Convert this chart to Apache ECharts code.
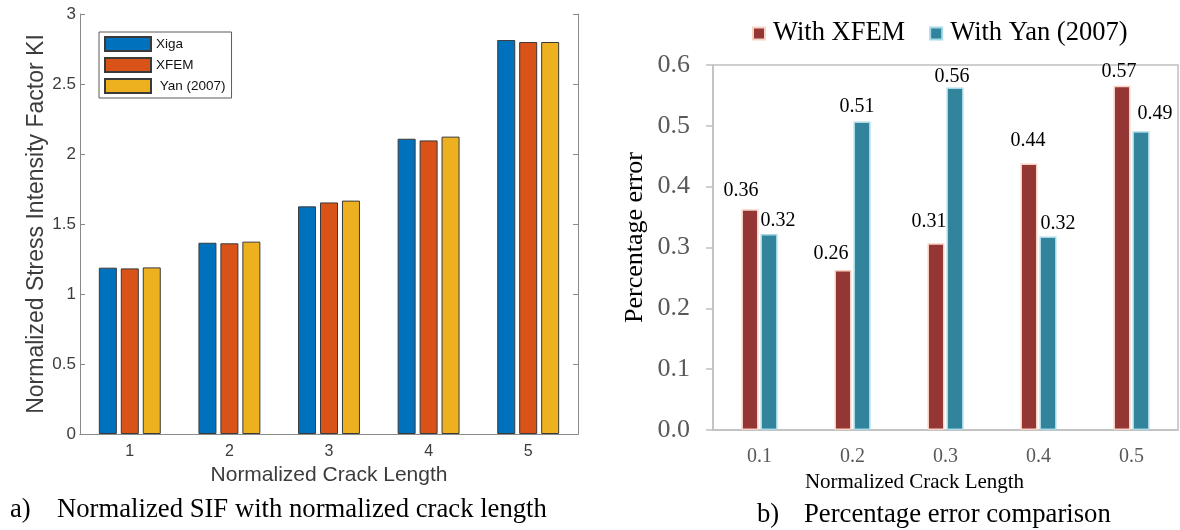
<!DOCTYPE html>
<html>
<head>
<meta charset="utf-8">
<script src="https://cdn.jsdelivr.net/npm/echarts@6/dist/echarts.min.js"></script>
<style>
html,body{margin:0;padding:0;background:#fff;}
#c{width:1180px;height:530px;}
</style>
</head>
<body>
<div id="c"></div>
<script>
// ---- data: left chart (Normalized SIF) ----
const cats1 = ['1', '2', '3', '4', '5'];
const xigaVals = [1.188, 1.366, 1.626, 2.109, 2.814];
const xfemVals = [1.183, 1.362, 1.654, 2.097, 2.800];
const yanVals  = [1.190, 1.374, 1.667, 2.124, 2.800];
const leftNames = ['Xiga', 'XFEM', ' Yan (2007)'];

// ---- data: right chart (Percentage error) ----
const cats2 = ['0.1', '0.2', '0.3', '0.4', '0.5'];
const errXfem = [0.363, 0.263, 0.307, 0.438, 0.566];
const errYan  = [0.322, 0.507, 0.563, 0.318, 0.491];
const rightNames = ['With XFEM', 'With Yan (2007)'];

// label nudges (styling only)
const nudgeXfem = [[-9,-8],[-12,-6],[-7,-11],[-1,-13],[-3,-4]];
const nudgeYan  = [[9,-3],[-5,-5],[-3,-1],[10,-3],[14,-8]];

const SANS = "'Liberation Sans', Arial, sans-serif";
const SERIF = "'Liberation Serif', 'Times New Roman', serif";
const lineL = '#8a8a8a';
const labL = '#3c3c3c';
const lineR = '#c0c0c0';
const labR = '#595959';

function labeled(vals, nudges) {
  return vals.map((v, i) => ({
    value: v,
    label: { offset: nudges[i] }
  }));
}

const capStyle = { fontFamily: SERIF, fontSize: 26.7, fontWeight: 'normal', color: '#000' };

const chart = echarts.init(document.getElementById('c'), null, {renderer: 'canvas'});
const option = {
  animation: false,
  backgroundColor: '#fff',
  title: [
    { text: 'a)', left: 10, top: 496, padding: 0, textStyle: capStyle },
    { text: 'Normalized SIF with normalized crack length', left: 57, top: 496, padding: 0, textStyle: capStyle },
    { text: 'b)', left: 757, top: 501, padding: 0, textStyle: capStyle },
    { text: 'Percentage error comparison', left: 804, top: 501, padding: 0, textStyle: capStyle }
  ],
  legend: [
    {
      data: leftNames, orient: 'vertical', left: 99, top: 32, icon: 'rect',
      itemWidth: 46, itemHeight: 14, itemGap: 5,
      padding: [4, 6, 4, 5],
      borderColor: '#5a5a5a', borderWidth: 1, backgroundColor: '#fff',
      textStyle: { fontFamily: SANS, fontSize: 13.5, color: '#111' },
      selectedMode: false
    },
    {
      data: rightNames, orient: 'horizontal', left: 752, top: 20, icon: 'rect',
      itemWidth: 12, itemHeight: 12, itemGap: 24,
      padding: 0,
      textStyle: { fontFamily: SERIF, fontSize: 26.5, color: '#000', padding: [0, 0, 0, 3] },
      selectedMode: false
    }
  ],
  grid: [
    { left: 80, top: 14, width: 498, height: 420, containLabel: false },
    { left: 713, top: 65, width: 465, height: 365, containLabel: false,
      show: true, borderColor: lineR, borderWidth: 1.5, backgroundColor: 'transparent' }
  ],
  xAxis: [
    {
      type: 'category', gridIndex: 0, data: cats1, position: 'bottom',
      axisLine: { lineStyle: { color: lineL, width: 1 } },
      axisTick: { inside: true, alignWithLabel: true, length: 5, lineStyle: { color: lineL } },
      axisLabel: { fontFamily: SANS, fontSize: 16, color: labL, margin: 10 },
      name: 'Normalized Crack Length', nameLocation: 'middle', nameGap: 30,
      nameTextStyle: { fontFamily: SANS, fontSize: 21, color: labL },
      splitLine: { show: false }, z: 5
    },
    {
      type: 'category', gridIndex: 0, data: cats1, position: 'top',
      axisLine: { lineStyle: { color: lineL, width: 1 } },
      axisTick: { inside: true, alignWithLabel: true, length: 5, lineStyle: { color: lineL } },
      axisLabel: { show: false }, splitLine: { show: false }, z: 5
    },
    {
      type: 'category', gridIndex: 1, data: cats2, position: 'bottom',
      axisLine: { lineStyle: { color: lineR, width: 1.5 } },
      axisTick: { inside: false, length: 7, lineStyle: { color: lineR, width: 1.5 } },
      axisLabel: { fontFamily: SERIF, fontSize: 20, color: labR, margin: 17 },
      name: 'Normalized Crack Length', nameLocation: 'middle', nameGap: 42,
      nameTextStyle: { fontFamily: SERIF, fontSize: 21, color: '#000', padding: [0, 62, 0, 0] },
      splitLine: { show: false }
    }
  ],
  yAxis: [
    {
      type: 'value', gridIndex: 0, min: 0, max: 3, interval: 0.5, position: 'left',
      axisLine: { show: true, lineStyle: { color: lineL, width: 1 } },
      axisTick: { show: true, inside: true, length: 5, lineStyle: { color: lineL } },
      axisLabel: { fontFamily: SANS, fontSize: 17, color: labL, margin: 4 },
      name: 'Normalized Stress Intensity Factor KI', nameLocation: 'middle', nameGap: 31,
      nameTextStyle: { fontFamily: SANS, fontSize: 23, color: labL },
      splitLine: { show: false }, z: 5
    },
    {
      type: 'value', gridIndex: 0, min: 0, max: 3, interval: 0.5, position: 'right',
      axisLine: { show: true, lineStyle: { color: lineL, width: 1 } },
      axisTick: { show: true, inside: true, length: 5, lineStyle: { color: lineL } },
      axisLabel: { show: false }, splitLine: { show: false }, z: 5
    },
    {
      type: 'value', gridIndex: 1, min: 0, max: 0.6, interval: 0.1, position: 'left',
      axisLine: { show: true, lineStyle: { color: lineR, width: 1.5 } },
      axisTick: { show: true, inside: false, length: 7, lineStyle: { color: lineR, width: 1.5 } },
      axisLabel: { fontFamily: SERIF, fontSize: 26, color: labR, margin: 23, formatter: v => v.toFixed(1) },
      name: 'Percentage error', nameLocation: 'middle', nameGap: 65,
      nameTextStyle: { fontFamily: SERIF, fontSize: 26, color: '#000', padding: [0, 0, 0, 20] },
      splitLine: { show: false }
    }
  ],
  series: [
    { name: leftNames[0], type: 'bar', xAxisIndex: 0, yAxisIndex: 0, data: xigaVals,
      barWidth: 18, barGap: '22%',
      itemStyle: { color: '#0072BD', borderColor: '#3a3a3a', borderWidth: 1 } },
    { name: leftNames[1], type: 'bar', xAxisIndex: 0, yAxisIndex: 0, data: xfemVals,
      barWidth: 18, barGap: '22%',
      itemStyle: { color: '#D95319', borderColor: '#3a3a3a', borderWidth: 1 } },
    { name: leftNames[2], type: 'bar', xAxisIndex: 0, yAxisIndex: 0, data: yanVals,
      barWidth: 18, barGap: '22%',
      itemStyle: { color: '#EDB120', borderColor: '#3a3a3a', borderWidth: 1 } },
    { name: rightNames[0], type: 'bar', xAxisIndex: 2, yAxisIndex: 2,
      data: labeled(errXfem, nudgeXfem),
      barWidth: 17, barGap: '12%',
      itemStyle: { color: '#943634', borderColor: '#F6D3C4', borderWidth: 1.5 },
      label: { show: true, position: 'top', distance: 0, fontFamily: SERIF, fontSize: 20, color: '#000',
        formatter: p => p.value.toFixed(2) } },
    { name: rightNames[1], type: 'bar', xAxisIndex: 2, yAxisIndex: 2,
      data: labeled(errYan, nudgeYan),
      barWidth: 17, barGap: '12%',
      itemStyle: { color: '#31849B', borderColor: '#A9D8E6', borderWidth: 1.5 },
      label: { show: true, position: 'top', distance: 0, fontFamily: SERIF, fontSize: 20, color: '#000',
        formatter: p => p.value.toFixed(2) } }
  ]
};
chart.setOption(option);
</script>
</body>
</html>
